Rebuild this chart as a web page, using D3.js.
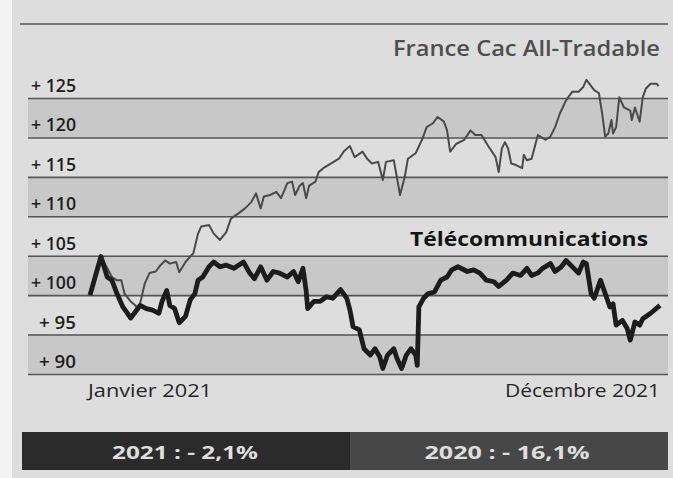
<!DOCTYPE html>
<html><head><meta charset="utf-8">
<script src="https://cdn.jsdelivr.net/npm/d3@7"></script>
<style>html,body{margin:0;padding:0;background:#f4f4f4;}svg{display:block;}</style>
</head><body>
<script>
// ---- data ----
const yTicks = [90, 95, 100, 105, 110, 115, 120, 125];
const tickLabels = ["+ 90", "+ 95", "+ 100", "+ 105", "+ 110", "+ 115", "+ 120", "+ 125"];
const xLabels = ["Janvier 2021", "Décembre 2021"];
const seriesNames = ["France Cac All-Tradable", "Télécommunications"];
const footer = ["2021 : - 2,1%", "2020 : - 16,1%"];
// day of year, index value (base 100)
const cacDays = [0,7,14,17,20,22,26,29,31,33,35,38,42,45,48,51,55,57,61,64,66,68,69,71,76,79,83,87,90,95,99,103,106,109,111,115,119,122,126,129,131,134,136,138,140,144,146,149,154,159,162,166,169,174,177,180,184,187,189,194,198,201,203,208,212,215,219,222,226,228,230,234,239,243,246,250,254,259,261,263,265,267,269,272,276,277,279,282,284,286,291,294,297,300,304,308,312,315,317,322,325,327,329,331,333,334,336,338,341,345,346,348,351,353,355,358,362,363];
const cacValues = [100,104.9,102.3,101.9,101.9,100.2,99.2,98.7,98.1,99.8,101.5,102.8,103.0,103.8,104.4,104.0,104.2,102.9,104.2,104.9,105.3,107.0,107.8,108.7,108.9,107.8,107.0,108.0,109.7,110.4,111.0,111.8,112.9,111.0,112.5,112.7,113.1,112.3,114.2,114.4,112.7,113.9,114.2,112.3,113.9,114.4,115.6,116.1,116.7,117.3,118.2,118.9,117.5,118.2,117.3,116.7,116.9,114.6,116.9,117.1,112.7,115.0,117.3,118.0,119.7,121.3,121.8,122.6,122.0,120.9,118.2,119.2,119.7,120.9,120.3,120.3,119.0,117.5,115.6,118.6,119.4,118.6,116.7,116.5,116.1,117.8,117.1,117.3,118.8,120.3,119.7,120.1,121.3,123.0,124.7,125.8,125.8,126.4,127.3,126.0,125.6,123.1,120.1,120.5,122.2,120.5,121.3,125.1,123.8,123.4,122.2,123.8,122.0,125.1,126.2,126.8,126.8,126.5];
const telDays = [0,7,11,14,17,21,26,29,32,36,40,44,46,49,51,54,57,61,64,67,69,72,76,79,83,87,92,98,102,105,109,113,117,121,126,130,133,136,138,139,143,147,151,155,160,164,166,168,172,175,179,182,185,187,190,194,196,199,202,205,208,209,210,213,216,220,224,228,231,235,241,245,249,253,258,261,266,270,275,279,282,286,289,294,297,301,304,309,312,315,317,320,322,326,329,332,334,336,340,343,345,348,351,353,358,364];
const telValues = [100,104.9,102.3,101.9,100.3,98.5,97.1,97.9,98.7,98.3,98.1,97.7,99.2,100.6,98.7,98.3,96.5,97.3,99.4,100.2,101.9,102.3,103.6,104.2,103.6,103.8,103.4,104.2,102.8,102.1,103.6,101.9,103.0,102.8,102.3,103.0,101.7,103.4,100.6,98.3,99.2,99.2,99.8,99.6,100.7,99.6,98.1,96.0,95.6,93.2,92.4,93.2,92.2,90.7,92.4,93.2,92.0,90.7,92.4,93.2,92.4,91.1,98.5,99.6,100.2,100.4,101.9,102.3,103.2,103.6,103.0,103.2,102.8,101.9,101.7,101.1,101.9,102.8,102.5,103.4,102.5,102.8,103.4,104.0,103.0,103.6,104.4,103.4,102.8,104.2,104.0,100.2,99.6,101.9,100.2,98.5,98.9,96.2,96.8,95.8,94.3,96.6,96.2,97.0,97.7,98.7];

// ---- chart ----
const W = 673, H = 478;
const svg = d3.select("body").append("svg").attr("width", W).attr("height", H);
const font = "'Open Sans', 'Noto Sans', sans-serif";

svg.append("rect").attr("x", 12).attr("y", 0).attr("width", W - 12).attr("height", H).attr("fill", "#dddddd");

const x = d3.scaleLinear().domain([0, 364]).range([90, 660]);
const y = d3.scaleLinear().domain([90, 125]).range([374, 98]);
const gridX0 = 28, gridX1 = 668;

// alternating bands
const bands = yTicks.filter((d, i) => i % 2 === 0); // dark bands [v, v+5]
svg.selectAll("rect.band").data(bands).enter().append("rect")
  .attr("x", gridX0).attr("width", gridX1 - gridX0)
  .attr("y", d => y(d + 5)).attr("height", d => y(d) - y(d + 5))
  .attr("fill", "#c8c8c8");

// top frame line
svg.append("line").attr("x1", 20).attr("x2", gridX1).attr("y1", 24).attr("y2", 24)
  .attr("stroke", "#555").attr("stroke-width", 1.6);

// gridlines via axis
const yAxis = d3.axisLeft(y).tickValues(yTicks).tickSize(-(gridX1 - gridX0)).tickFormat("");
const gAx = svg.append("g").attr("transform", `translate(${gridX0},0)`).call(yAxis);
gAx.select(".domain").remove();
gAx.selectAll(".tick line").attr("stroke", "#555").attr("stroke-width", 1.6);

// tick labels
svg.selectAll("text.yl").data(yTicks).enter().append("text")
  .attr("x", 76).attr("y", d => y(d) - 6).attr("text-anchor", "end")
  .attr("font-family", font).attr("font-weight", 600).attr("font-size", 18).attr("fill", "#1e1e1e")
  .attr("textLength", d => d >= 100 ? 45 : 37).attr("lengthAdjust", "spacingAndGlyphs")
  .text((d, i) => tickLabels[i]);

const line = d3.line().x(d => x(d[0])).y(d => y(d[1])).curve(d3.curveLinear);
const cac = cacDays.map((d, i) => [d, cacValues[i]]);
const tel = telDays.map((d, i) => [d, telValues[i]]);

svg.append("path").datum(cac).attr("d", line).attr("fill", "none")
  .attr("stroke", "#4a4a4a").attr("stroke-width", 2).attr("stroke-linejoin", "round");
svg.append("path").datum(tel).attr("d", line).attr("fill", "none")
  .attr("stroke", "#1c1c1c").attr("stroke-width", 4.8).attr("stroke-linejoin", "round");

// series labels
svg.append("text").attr("x", 660).attr("y", 56).attr("text-anchor", "end")
  .attr("font-family", font).attr("font-weight", 600).attr("font-size", 21).attr("fill", "#4e4e4e")
  .attr("textLength", 267).attr("lengthAdjust", "spacingAndGlyphs")
  .text(seriesNames[0]);
svg.append("text").attr("x", 648).attr("y", 246).attr("text-anchor", "end")
  .attr("font-family", font).attr("font-weight", 700).attr("font-size", 20).attr("fill", "#151515")
  .attr("textLength", 238).attr("lengthAdjust", "spacingAndGlyphs")
  .text(seriesNames[1]);

// x labels
svg.append("text").attr("x", 88).attr("y", 397)
  .attr("font-family", font).attr("font-weight", 500).attr("font-size", 18).attr("fill", "#262626")
  .attr("textLength", 124).attr("lengthAdjust", "spacingAndGlyphs").text(xLabels[0]);
svg.append("text").attr("x", 660).attr("y", 397).attr("text-anchor", "end")
  .attr("font-family", font).attr("font-weight", 500).attr("font-size", 18).attr("fill", "#262626")
  .attr("textLength", 155).attr("lengthAdjust", "spacingAndGlyphs").text(xLabels[1]);

// footer bar
svg.append("rect").attr("x", 22).attr("y", 432).attr("width", 328).attr("height", 38).attr("fill", "#2b2b2b");
svg.append("rect").attr("x", 350).attr("y", 432).attr("width", 318).attr("height", 38).attr("fill", "#474747");
svg.append("text").attr("x", 185).attr("y", 459).attr("text-anchor", "middle")
  .attr("font-family", font).attr("font-weight", 700).attr("font-size", 17).attr("fill", "#dedede")
  .attr("textLength", 146).attr("lengthAdjust", "spacingAndGlyphs").text(footer[0]);
svg.append("text").attr("x", 507).attr("y", 459).attr("text-anchor", "middle")
  .attr("font-family", font).attr("font-weight", 700).attr("font-size", 17).attr("fill", "#dedede")
  .attr("textLength", 165).attr("lengthAdjust", "spacingAndGlyphs").text(footer[1]);
</script>
</body></html>
